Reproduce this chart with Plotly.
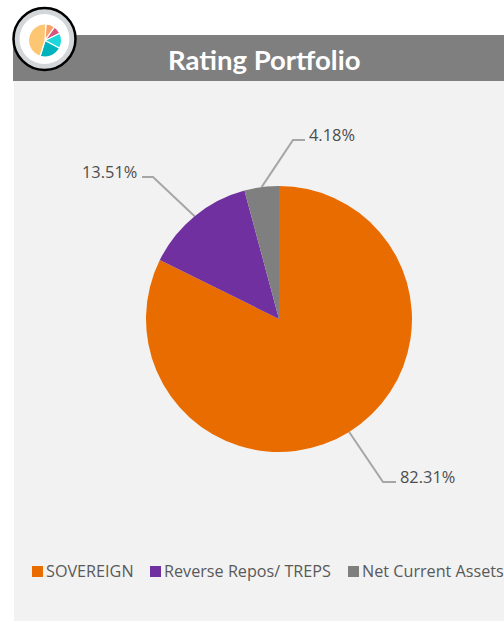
import math
import plotly.graph_objects as go

W, H = 504, 621

title = "Rating Portfolio"
categories = ["SOVEREIGN", "Reverse Repos/ TREPS", "Net Current Assets"]
values = [82.31, 13.51, 4.18]
colors = ["#E96C00", "#7030A0", "#7F7F7F"]

icon_labels = ["a", "b", "c", "d", "e"]
icon_values = [9, 8, 15, 22, 46]
icon_colors = ["#F9A36B", "#D9537F", "#1CD8DC", "#00B3BC", "#FDC672"]

legend_swatch_x = [32, 150, 348]
label_elbows = [(383, 482), (153, 177), (293, 140)]
label_ends = [396, 142, 305]
label_text_x = [400, 137, 309]

PIE_CX, PIE_CY, PIE_R = 279, 319, 133
ICON_CX, ICON_CY, ICON_R = 45, 40.5, 16.5


def px(x):
    return x / W


def py(y):
    return 1 - y / H


def dom(cx, cy, r):
    return dict(x=[px(cx - r), px(cx + r)], y=[py(cy + r), py(cy - r)])


fig = go.Figure()
fig.add_trace(go.Pie(
    labels=categories, values=values, sort=False, direction="clockwise", rotation=0,
    marker=dict(colors=colors, line=dict(width=0)), textinfo="none", hoverinfo="label+percent",
    showlegend=False, domain=dom(PIE_CX, PIE_CY, PIE_R),
))
fig.add_trace(go.Pie(
    labels=icon_labels, values=icon_values, sort=False, direction="clockwise", rotation=3,
    marker=dict(colors=icon_colors, line=dict(width=1.2, color="white")), textinfo="none",
    hoverinfo="skip", showlegend=False, domain=dom(ICON_CX, ICON_CY, ICON_R),
))


def rect(x0, y0, x1, y1, color):
    return dict(type="rect", xref="paper", yref="paper", x0=px(x0), x1=px(x1), y0=py(y0), y1=py(y1),
                fillcolor=color, line=dict(width=0), layer="below")


def circle(cx, cy, r, fill, line_color=None, line_w=0):
    return dict(type="circle", xref="paper", yref="paper", x0=px(cx - r), x1=px(cx + r), y0=py(cy + r), y1=py(cy - r),
                fillcolor=fill, line=dict(width=line_w, color=line_color or fill), layer="below")


shapes = [
    rect(14, 81, W, H, "#F2F2F2"),
    rect(13, 35, W, 81, "#7F7F7F"),
    circle(44.5, 39, 31, "#D3D6D9", "#000000", 2.5),
    circle(44.5, 39, 25, "#FFFFFF"),
]

annotations = [dict(text=f"<b>{title}</b>", x=px(263.5), y=py(59.5), xref="paper", yref="paper", showarrow=False,
                    font=dict(family="Lato", size=27.5, color="white"), xanchor="center", yanchor="middle")]

total = sum(values)
cum = 0
for i, v in enumerate(values):
    ang = (cum + v / 2) / total * 2 * math.pi
    cum += v
    sx, sy = PIE_CX + PIE_R * math.sin(ang), PIE_CY - PIE_R * math.cos(ang)
    ex, ey = label_elbows[i]
    path = f"M{px(sx)},{py(sy)} L{px(ex)},{py(ey)} L{px(label_ends[i])},{py(ey)}"
    shapes.append(dict(type="path", xref="paper", yref="paper", path=path,
                       line=dict(color="#A6A6A6", width=2), layer="below"))
    anchor = "right" if label_text_x[i] < PIE_CX - 100 else "left"
    annotations.append(dict(text=f"{v:.2f}%", x=px(label_text_x[i]), y=py(ey - 5.5), xref="paper", yref="paper",
                            showarrow=False, xanchor=anchor, yanchor="middle", borderpad=0, borderwidth=0,
                            font=dict(family="Open Sans", size=16.4, color="#4D4D4D")))
    sw = legend_swatch_x[i]
    shapes.append(rect(sw, 566, sw + 11, 577, colors[i]))
    annotations.append(dict(text=categories[i], x=px(sw + 14), y=py(571), xref="paper", yref="paper",
                            showarrow=False, xanchor="left", yanchor="middle", borderpad=0, borderwidth=0,
                            font=dict(family="Open Sans", size=16.2, color="#595959")))

fig.update_layout(width=W, height=H, margin=dict(l=0, r=0, t=0, b=0), paper_bgcolor="white",
                  shapes=shapes, annotations=annotations)
fig.write_html("out.html", config=dict(displayModeBar=False),
               post_script="document.body.style.margin='0';document.body.style.overflow='hidden';window.dispatchEvent(new Event('resize'));")
